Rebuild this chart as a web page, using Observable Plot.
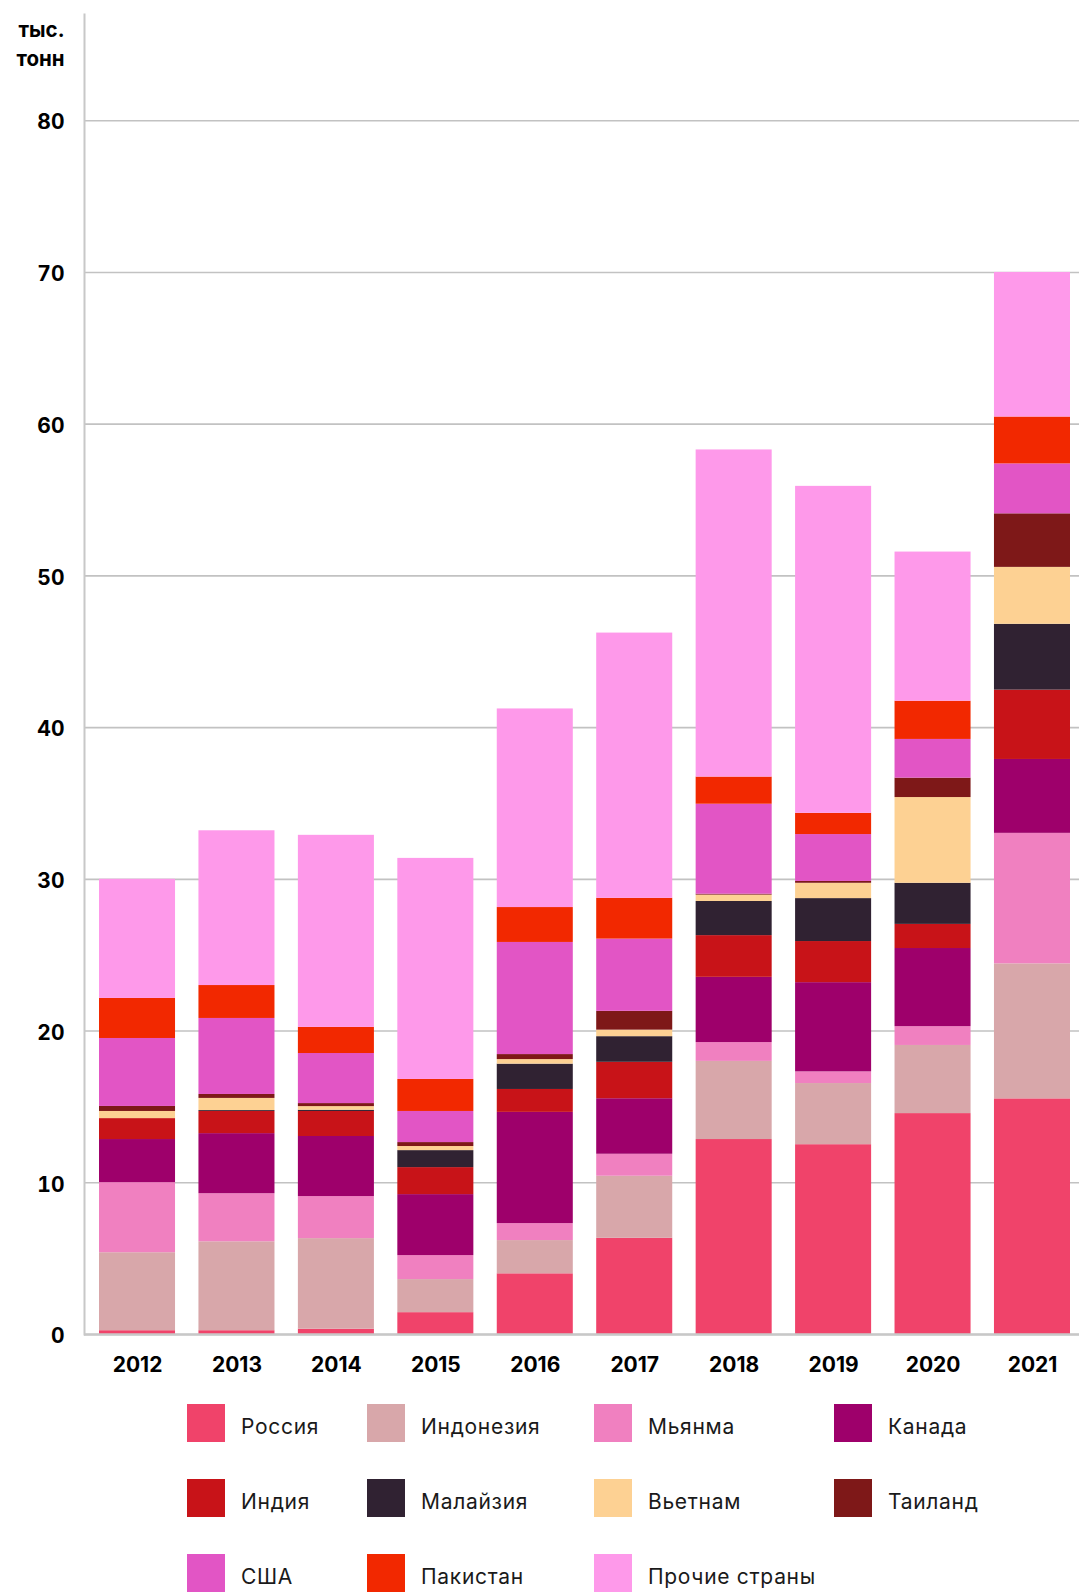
<!DOCTYPE html>
<html>
<head>
<meta charset="utf-8">
<script src="https://cdn.jsdelivr.net/npm/d3@7"></script>
<script src="https://cdn.jsdelivr.net/npm/@observablehq/plot@0.6"></script>
<style>
  html, body { margin: 0; padding: 0; background: #fff; overflow: hidden; }
  #wrap { position: relative; width: 1079px; }
  #legend { position: relative; width: 1079px; height: 220px; font-family: Inter, "Noto Sans", sans-serif; }
  .item { position: absolute; display: flex; align-items: center; height: 38px; }
  .sw { width: 38px; height: 38px; flex: none; }
  .lb { margin-left: 16px; font-size: 21px; color: #1a1a1a; letter-spacing: 0.7px; white-space: nowrap; position: relative; top: 3px; }
</style>
</head>
<body>
<div id="wrap">
  <div id="chart"></div>
  <div id="legend"></div>
</div>
<script>
const years = ["2012","2013","2014","2015","2016","2017","2018","2019","2020","2021"];
const countries = ["Россия","Индонезия","Мьянма","Канада","Индия","Малайзия","Вьетнам","Таиланд","США","Пакистан","Прочие страны"];
const colors = ["#F0436A","#D8A7AA","#F080C0","#9E006B","#C81318","#302232","#FDD193","#7E1818","#E255C5","#F22800","#FE99EA"];

const russia    = [0.25, 0.25, 0.35, 1.44, 4.00, 6.34, 12.85, 12.51, 14.56, 15.53];
const indonesia = [5.14, 5.86, 5.97, 2.18, 2.19, 4.09, 5.15, 4.03, 4.49, 8.90];
const myanmar   = [4.62, 3.17, 2.77, 1.58, 1.12, 1.45, 1.24, 0.77, 1.24, 8.60];
const canada    = [2.84, 3.96, 3.96, 4.02, 7.33, 3.66, 4.30, 5.88, 5.15, 4.87];
const india     = [1.38, 1.46, 1.65, 1.78, 1.51, 2.40, 2.75, 2.71, 1.59, 4.57];
const malaysia  = [0.00, 0.06, 0.08, 1.12, 1.67, 1.69, 2.25, 2.83, 2.71, 4.34];
const vietnam   = [0.47, 0.80, 0.24, 0.27, 0.30, 0.43, 0.42, 1.01, 5.65, 3.75];
const thailand  = [0.33, 0.26, 0.20, 0.26, 0.33, 1.24, 0.06, 0.12, 1.28, 3.53];
const usa       = [4.48, 5.01, 3.30, 2.05, 7.39, 4.76, 5.93, 3.09, 2.55, 3.29];
const pakistan  = [2.64, 2.17, 1.72, 2.11, 2.30, 2.69, 1.79, 1.40, 2.52, 3.09];
const other     = [7.85, 10.20, 12.66, 14.57, 13.09, 17.48, 21.56, 21.55, 9.83, 9.53];

const yTicks = [0, 10, 20, 30, 40, 50, 60, 70, 80];
const unitLabel = "тыс.\nтонн";

const series = [russia, indonesia, myanmar, canada, india, malaysia, vietnam, thailand, usa, pakistan, other];
const data = [];
countries.forEach((c, i) => {
  years.forEach((y, j) => data.push({country: c, year: y, value: series[i][j]}));
});

const FONT = "Inter, 'Noto Sans', sans-serif";

const chart = Plot.plot({
  width: 1079,
  height: 1390,
  marginLeft: 84,
  marginRight: 0,
  marginTop: 14,
  marginBottom: 56,
  style: {fontFamily: FONT, background: "#fff", color: "#000"},
  x: {type: "band", domain: years, paddingInner: 0.2354, paddingOuter: 0.1207, align: 0.625, round: false, label: null},
  y: {domain: [0, 87], label: null},
  color: {domain: countries, range: colors},
  marks: [
    Plot.gridY(yTicks, {stroke: "#c2c2c2", strokeOpacity: 1, strokeWidth: 1.6}),
    Plot.frame({anchor: "left", stroke: "#c8c8c8", strokeWidth: 2}),
    Plot.barY(data, {x: "year", y: "value", fill: "country", order: countries}),
    Plot.ruleY([0], {stroke: "#c8c8c8", strokeWidth: 2.5}),
    Plot.axisY(yTicks, {tickSize: 0, tickPadding: 20, dy: 2, fontSize: 21, fontWeight: 700, fill: "#000", label: null}),
    Plot.axisX({tickSize: 0, tickPadding: 23, fontSize: 21, fontWeight: 700, fill: "#000", label: null}),
    Plot.text([unitLabel], {frameAnchor: "top-left", dx: -20, dy: 28, textAnchor: "end", lineAnchor: "middle", lineHeight: 1.38, fontSize: 20.5, fontWeight: 700, fill: "#000"})
  ]
});
document.getElementById("chart").appendChild(chart);

// legend
const colX = [187, 367, 594, 834];
const rowTop = 14;
const rowStep = 75;
const legend = document.getElementById("legend");
countries.forEach((c, i) => {
  const r = Math.floor(i / 4), k = i % 4;
  const it = document.createElement("div");
  it.className = "item";
  it.style.left = colX[k] + "px";
  it.style.top = (rowTop + r * rowStep) + "px";
  const sw = document.createElement("div");
  sw.className = "sw";
  sw.style.background = colors[i];
  const lb = document.createElement("span");
  lb.className = "lb";
  lb.textContent = c;
  it.appendChild(sw);
  it.appendChild(lb);
  legend.appendChild(it);
});
</script>
</body>
</html>
